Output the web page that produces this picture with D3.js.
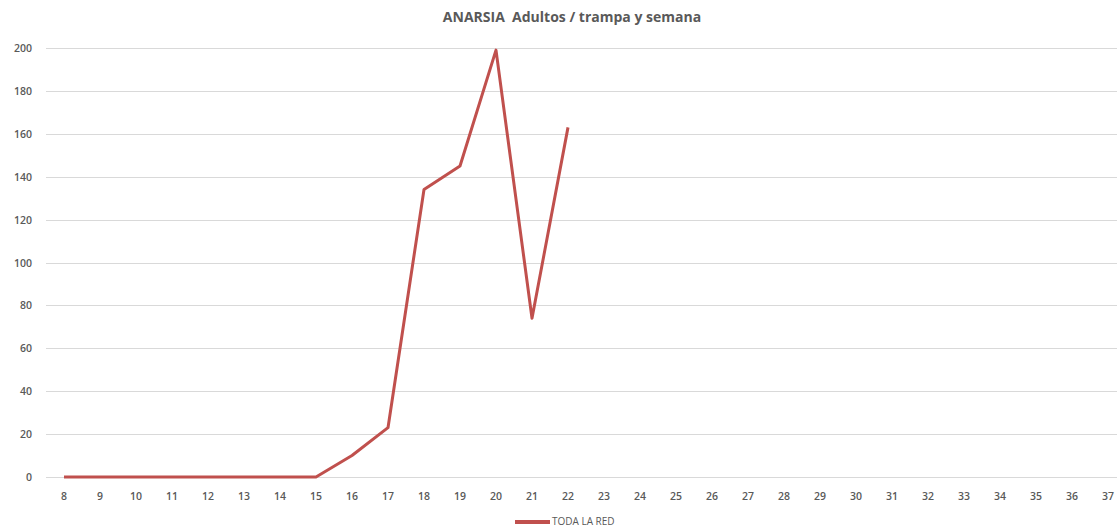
<!DOCTYPE html>
<html>
<head>
<meta charset="utf-8">
<script src="https://cdn.jsdelivr.net/npm/d3@7"></script>
<style>
  body { margin: 0; background: #fff; }
  svg { display: block; }
</style>
</head>
<body>
<div id="chart"></div>
<script>
// Weeks on the x axis
var weeks = d3.range(8, 38);
// Adults per trap, only weeks 8..22 have data
var dataWeeks = [8, 9, 10, 11, 12, 13, 14, 15, 16, 17, 18, 19, 20, 21, 22];
var dataValues = [0, 0, 0, 0, 0, 0, 0, 0, 10, 23, 134, 145, 199, 74, 163];
var yTicks = [0, 20, 40, 60, 80, 100, 120, 140, 160, 180, 200];
var seriesName = "TODA LA RED";

var w = 1117, h = 530;
var svg = d3.select("#chart").append("svg")
    .attr("width", w)
    .attr("height", h);

var xScale = d3.scaleBand()
    .domain(weeks)
    .range([46, 1126]);

var yScale = d3.scaleLinear()
    .domain([0, 200])
    .range([477, 48]);

var font = "'Open Sans', 'Liberation Sans', sans-serif";

// gridlines
svg.selectAll(".grid")
    .data(yTicks)
    .enter()
    .append("line")
    .attr("x1", 46)
    .attr("x2", w)
    .attr("y1", function(d) { return Math.round(yScale(d)) + 0.5; })
    .attr("y2", function(d) { return Math.round(yScale(d)) + 0.5; })
    .attr("stroke", "#d9d9d9")
    .attr("stroke-width", 1);

// y labels
svg.selectAll(".ylab")
    .data(yTicks)
    .enter()
    .append("text")
    .attr("x", 32)
    .attr("y", function(d) { return yScale(d) + 4; })
    .attr("text-anchor", "end")
    .attr("font-family", font)
    .attr("font-size", 10.5)
    .attr("font-weight", 600)
    .attr("fill", "#595959")
    .text(function(d) { return d; });

// x labels
svg.selectAll(".xlab")
    .data(weeks)
    .enter()
    .append("text")
    .attr("x", function(d) { return xScale(d) + xScale.bandwidth() / 2; })
    .attr("y", 500)
    .attr("text-anchor", "middle")
    .attr("font-family", font)
    .attr("font-size", 10.5)
    .attr("font-weight", 600)
    .attr("fill", "#595959")
    .text(function(d) { return d; });

// line
var line = d3.line()
    .x(function(d, i) { return xScale(dataWeeks[i]) + xScale.bandwidth() / 2; })
    .y(function(d) { return yScale(d); });

svg.append("path")
    .datum(dataValues)
    .attr("d", line)
    .attr("fill", "none")
    .attr("stroke", "#c0504d")
    .attr("stroke-width", 3)
    .attr("stroke-linejoin", "round");

// title (keeps the double space)
svg.append("text")
    .attr("x", 572)
    .attr("y", 22)
    .attr("text-anchor", "middle")
    .attr("font-family", font)
    .attr("font-size", 14)
    .attr("font-weight", "bold")
    .attr("fill", "#595959")
    .style("white-space", "pre")
    .text("ANARSIA  Adultos / trampa y semana");

// legend
svg.append("line")
    .attr("x1", 515)
    .attr("x2", 550)
    .attr("y1", 522)
    .attr("y2", 522)
    .attr("stroke", "#c0504d")
    .attr("stroke-width", 4);

svg.append("text")
    .attr("x", 552)
    .attr("y", 525)
    .attr("font-family", font)
    .attr("font-size", 10)
    .attr("fill", "#595959")
    .text(seriesName);
</script>
</body>
</html>
